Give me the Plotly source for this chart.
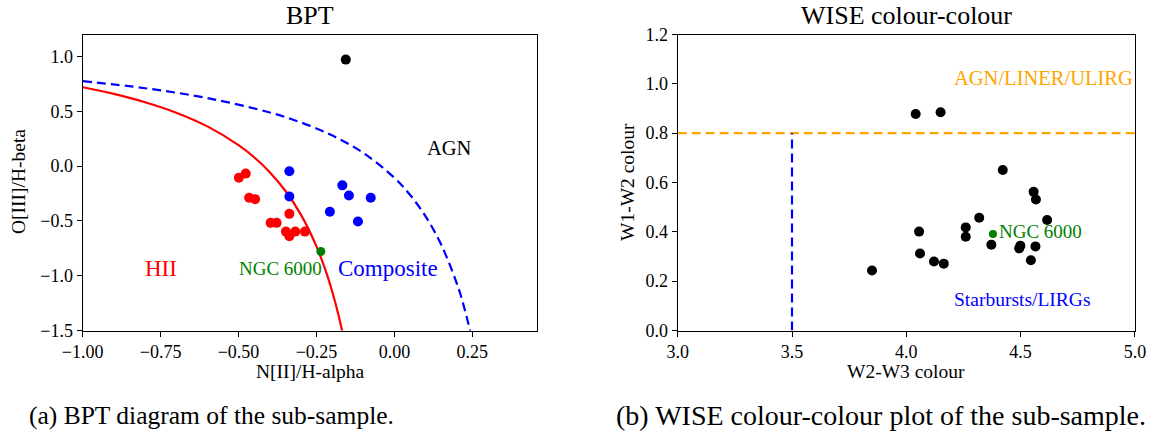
import plotly.graph_objects as go

# ---------------- BPT data ----------------
hii_x = [-0.499, -0.477, -0.466, -0.447, -0.337, -0.397, -0.378, -0.348, -0.337, -0.318, -0.287]
hii_y = [-0.106, -0.069, -0.289, -0.302, -0.436, -0.518, -0.518, -0.598, -0.641, -0.598, -0.598]
comp_x = [-0.337, -0.337, -0.167, -0.146, -0.076, -0.207, -0.117]
comp_y = [-0.048, -0.277, -0.176, -0.268, -0.289, -0.417, -0.506]
agn_x = [-0.156]
agn_y = [0.971]
ngc_bpt_x = [-0.236]
ngc_bpt_y = [-0.779]

# demarcation curves
kauff_x = [-1.0, -0.9, -0.8, -0.7, -0.6, -0.5, -0.45, -0.4, -0.35, -0.3, -0.25, -0.22, -0.2, -0.18, -0.16]
kauff_y = [0.719, 0.658, 0.582, 0.487, 0.362, 0.191, 0.080, -0.056, -0.225, -0.443, -0.733, -0.959, -1.140, -1.352, -1.605]
kew_x = [-1.0, -0.8, -0.6, -0.4, -0.3, -0.2, -0.1, 0.0, 0.05, 0.1, 0.15, 0.2, 0.22, 0.25]
kew_y = [0.775, 0.710, 0.620, 0.489, 0.398, 0.280, 0.120, -0.108, -0.262, -0.459, -0.716, -1.069, -1.250, -1.583]

bpt_xticks = [-1.0, -0.75, -0.5, -0.25, 0.0, 0.25]
bpt_yticks = [-1.5, -1.0, -0.5, 0.0, 0.5, 1.0]

# ---------------- WISE data ----------------
w23 = [4.041, 4.150, 4.422, 4.557, 4.567, 4.616, 4.319, 4.260, 4.260, 4.056,
       4.372, 4.499, 4.494, 4.565, 4.545, 4.060, 4.121, 4.164, 3.850]
w12 = [0.878, 0.885, 0.651, 0.562, 0.531, 0.448, 0.457, 0.418, 0.380, 0.401,
       0.348, 0.344, 0.333, 0.341, 0.285, 0.312, 0.280, 0.271, 0.243]
ngc_w23 = [4.379]
ngc_w12 = [0.391]
agn_cut = 0.8
sb_cut = 3.5

wise_xticks = [3.0, 3.5, 4.0, 4.5, 5.0]
wise_yticks = [0.0, 0.2, 0.4, 0.6, 0.8, 1.0, 1.2]

FONT = "Liberation Serif"
W, H = 1156, 434

def px(x):
    return x / W

def py(y):
    return 1 - y / H

fig = go.Figure()

# BPT
fig.add_trace(go.Scatter(x=kauff_x, y=kauff_y, mode="lines", line=dict(color="red", width=2.2, shape="spline"),
                         xaxis="x", yaxis="y", showlegend=False, hoverinfo="skip"))
fig.add_trace(go.Scatter(x=kew_x, y=kew_y, mode="lines", line=dict(color="blue", width=2.2, dash="9px,5px", shape="spline"),
                         xaxis="x", yaxis="y", showlegend=False, hoverinfo="skip"))
fig.add_trace(go.Scatter(x=hii_x, y=hii_y, mode="markers", marker=dict(color="red", size=10),
                         xaxis="x", yaxis="y", showlegend=False))
fig.add_trace(go.Scatter(x=comp_x, y=comp_y, mode="markers", marker=dict(color="blue", size=10),
                         xaxis="x", yaxis="y", showlegend=False))
fig.add_trace(go.Scatter(x=agn_x, y=agn_y, mode="markers", marker=dict(color="black", size=10),
                         xaxis="x", yaxis="y", showlegend=False))
fig.add_trace(go.Scatter(x=ngc_bpt_x, y=ngc_bpt_y, mode="markers", marker=dict(color="green", size=9),
                         xaxis="x", yaxis="y", showlegend=False))

# WISE
fig.add_trace(go.Scatter(x=[3.0, 5.0], y=[agn_cut, agn_cut], mode="lines",
                         line=dict(color="orange", width=2.2, dash="9px,5px"),
                         xaxis="x2", yaxis="y2", showlegend=False, hoverinfo="skip"))
fig.add_trace(go.Scatter(x=[sb_cut, sb_cut], y=[0.0, agn_cut], mode="lines",
                         line=dict(color="blue", width=2.2, dash="9px,5px"),
                         xaxis="x2", yaxis="y2", showlegend=False, hoverinfo="skip"))
fig.add_trace(go.Scatter(x=w23, y=w12, mode="markers", marker=dict(color="black", size=10),
                         xaxis="x2", yaxis="y2", showlegend=False))
fig.add_trace(go.Scatter(x=ngc_w23, y=ngc_w12, mode="markers", marker=dict(color="green", size=8),
                         xaxis="x2", yaxis="y2", showlegend=False))

axis_common = dict(showline=True, mirror=True, linecolor="black", linewidth=1.3,
                   ticks="outside", ticklen=5, tickwidth=1.3, tickcolor="black",
                   showgrid=False, zeroline=False, automargin=False,
                   tickfont=dict(family=FONT, size=18, color="black"))

ydom = [py(330.5), py(34.5)]
fig.update_layout(
    template="none",
    width=W, height=H, autosize=False,
    margin=dict(l=0, r=0, t=0, b=0, pad=0),
    paper_bgcolor="white", plot_bgcolor="white",
    font=dict(family=FONT, color="black"),
    xaxis=dict(domain=[px(82.7), px(536.7)], range=[-1.0, 0.4565], tickvals=bpt_xticks,
               tickformat=".2f", anchor="y", **axis_common),
    yaxis=dict(domain=ydom, range=[-1.5, 1.2], tickvals=bpt_yticks, tickformat=".1f",
               anchor="x", **axis_common),
    xaxis2=dict(domain=[px(677.7), px(1134.9)], range=[3.0, 5.0], tickvals=wise_xticks,
                tickformat=".1f", anchor="y2", **axis_common),
    yaxis2=dict(domain=ydom, range=[0.0, 1.2], tickvals=wise_yticks, tickformat=".1f",
                anchor="x2", **axis_common),
)

ann = []
def t(text, x, y, size=18, color="black", xref="paper", yref="paper", xanchor="center", angle=0):
    ann.append(dict(text=text, x=x, y=y, xref=xref, yref=yref, xanchor=xanchor, yanchor="middle",
                    showarrow=False, textangle=angle, font=dict(family=FONT, size=size, color=color)))

# titles & axis labels
t("BPT", px(310), py(16), size=26)
t("WISE colour-colour", px(906), py(16), size=26)
t("N[II]/H-alpha", px(310), py(371), size=19.5)
t("W2-W3 colour", px(906), py(371), size=19.5)
t("O[III]/H-beta", px(18), py(182), size=19.5, angle=-90)
t("W1-W2 colour", px(627), py(182), size=19.5, angle=-90)

# in-plot labels BPT
t("AGN", 0.178, 0.163, size=20.5, xref="x", yref="y")
t("HII", -0.749, -0.938, size=23, color="red", xref="x", yref="y")
t("NGC 6000", -0.367, -0.938, size=19, color="green", xref="x", yref="y")
t("Composite", -0.0205, -0.938, size=23, color="blue", xref="x", yref="y")

# in-plot labels WISE
t("AGN/LINER/ULIRG", 4.2, 1.025, size=20.5, color="orange", xref="x2", yref="y2", xanchor="left")
t("Starbursts/LIRGs", 4.2, 0.125, size=19.5, color="blue", xref="x2", yref="y2", xanchor="left")
t("NGC 6000", 4.395, 0.403, size=19, color="green", xref="x2", yref="y2", xanchor="left")

# captions
t("(a) BPT diagram of the sub-sample.", px(211), py(415), size=25.5)
t("(b) WISE colour-colour plot of the sub-sample.", px(881), py(415), size=28)

fig.update_layout(annotations=ann)
fig.write_html("out.html", config={"displayModeBar": False},
               post_script="document.body.style.margin='0';document.body.style.overflow='hidden';")
